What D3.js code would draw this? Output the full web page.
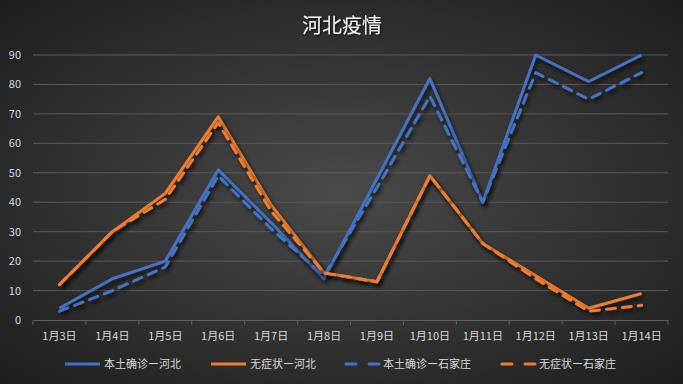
<!DOCTYPE html>
<html><head><meta charset="utf-8">
<script src="https://cdn.jsdelivr.net/npm/d3@7"></script>
<style>html,body{margin:0;padding:0;background:#2a2a2a;overflow:hidden}svg{display:block}</style>
</head><body>
<script>
const categories = ["1月3日","1月4日","1月5日","1月6日","1月7日","1月8日","1月9日","1月10日","1月11日","1月12日","1月13日","1月14日"];
const localHebei = [4,14,20,51,33,14,48,82,40,90,81,90];
const asymHebei  = [12,30,43,69,39,16,13,49,26,15,4,9];
const localSjz   = [3,10,18,49,31,15,45,76,40,84,75,84];
const asymSjz    = [12,30,41,67,37,16,13,49,26,14,3,5];
const yTicks = [0,10,20,30,40,50,60,70,80,90];
const seriesNames = ["本土确诊ー河北","无症状ー河北","本土确诊ー石家庄","无症状ー石家庄"];

const W=683,H=384;
const m={left:33,right:15,top:55,bottom:64};
const svg=d3.select("body").append("svg").attr("width",W).attr("height",H);
const defs=svg.append("defs");
const rg=defs.append("radialGradient").attr("id","bg").attr("cx","50%").attr("cy","50%").attr("r","70%");
rg.append("stop").attr("offset","0%").attr("stop-color","#4a4a4a");
rg.append("stop").attr("offset","100%").attr("stop-color","#1e1e1e");
const f=defs.append("filter").attr("id","sh").attr("x","-10%").attr("y","-10%").attr("width","130%").attr("height","130%");
f.append("feDropShadow").attr("dx",2).attr("dy",3).attr("stdDeviation",2).attr("flood-color","#000").attr("flood-opacity",0.75);
const ft=defs.append("filter").attr("id","tsh");
ft.append("feDropShadow").attr("dx",1).attr("dy",1).attr("stdDeviation",0.8).attr("flood-color","#000").attr("flood-opacity",0.8);

svg.append("rect").attr("width",W).attr("height",H).attr("fill","url(#bg)");

svg.append("text").attr("x",342).attr("y",33).attr("text-anchor","middle")
  .attr("font-family","'Noto Sans CJK SC'").attr("font-size",20).attr("fill","#f2f2f2")
  .attr("filter","url(#tsh)").text("河北疫情");

const x=d3.scaleBand().domain(categories).range([m.left,W-m.right]);
const y=d3.scaleLinear().domain([0,90]).range([H-m.bottom,m.top]);

// grid
svg.append("g").selectAll("line").data(yTicks.filter(d=>d>0)).join("line")
  .attr("x1",m.left).attr("x2",W-m.right).attr("y1",d=>y(d)).attr("y2",d=>y(d))
  .attr("stroke","#5a5a5a").attr("stroke-width",1);

// y axis labels
const ya=svg.append("g").attr("transform",`translate(${m.left},0)`)
  .call(d3.axisLeft(y).tickValues(yTicks).tickSize(0).tickPadding(12));
ya.select(".domain").remove();
ya.selectAll("text").attr("fill","#d9d9d9").attr("font-family","'Noto Sans CJK SC'").attr("font-size",11);

// x axis
const xa=svg.append("g").attr("transform",`translate(0,${y(0)})`)
  .call(d3.axisBottom(x).tickSize(0).tickPadding(12));
xa.select(".domain").attr("stroke","#5f5f5f");
xa.selectAll("text").attr("fill","#d9d9d9").attr("font-family","'Noto Sans CJK SC'").attr("font-size",11);
const bounds=categories.map(c=>x(c)).concat([W-m.right]);
svg.append("g").selectAll("line").data(bounds).join("line")
  .attr("x1",d=>d).attr("x2",d=>d).attr("y1",y(0)).attr("y2",y(0)+5)
  .attr("stroke","#5f5f5f");

const series=[
  {name:seriesNames[0],vals:localHebei,color:"#4472C4",dash:null},
  {name:seriesNames[1],vals:asymHebei,color:"#ED7D31",dash:null},
  {name:seriesNames[2],vals:localSjz,color:"#4472C4",dash:"9,7"},
  {name:seriesNames[3],vals:asymSjz,color:"#ED7D31",dash:"9,7"}
];
const line=d3.line().x((d,i)=>x(categories[i])+x.bandwidth()/2).y(d=>y(d));
const lg=svg.append("g");
series.forEach(s=>{
  lg.append("path").attr("d",line(s.vals)).attr("fill","none")
    .attr("stroke",s.color).attr("stroke-width",3)
    .attr("stroke-linejoin","round").attr("stroke-linecap",s.dash?"round":"butt")
    .attr("stroke-dasharray",s.dash).attr("filter","url(#sh)");
});

// legend
const legX=[65,211,344,500];
const leg=svg.append("g");
series.forEach((s,i)=>{
  const g=leg.append("g").attr("transform",`translate(${legX[i]},364)`);
  g.append("line").attr("x1",0).attr("x2",35).attr("y1",0).attr("y2",0)
    .attr("stroke",s.color).attr("stroke-width",3).attr("stroke-linecap",s.dash?"round":"butt")
    .attr("stroke-dasharray",s.dash?"10,13":null).attr("transform",s.dash?"translate(2,0)":null);
  g.append("text").attr("x",39).attr("y",4).attr("fill","#d9d9d9")
    .attr("font-family","'Noto Sans CJK SC'").attr("font-size",11).text(s.name);
});
</script>
</body></html>
